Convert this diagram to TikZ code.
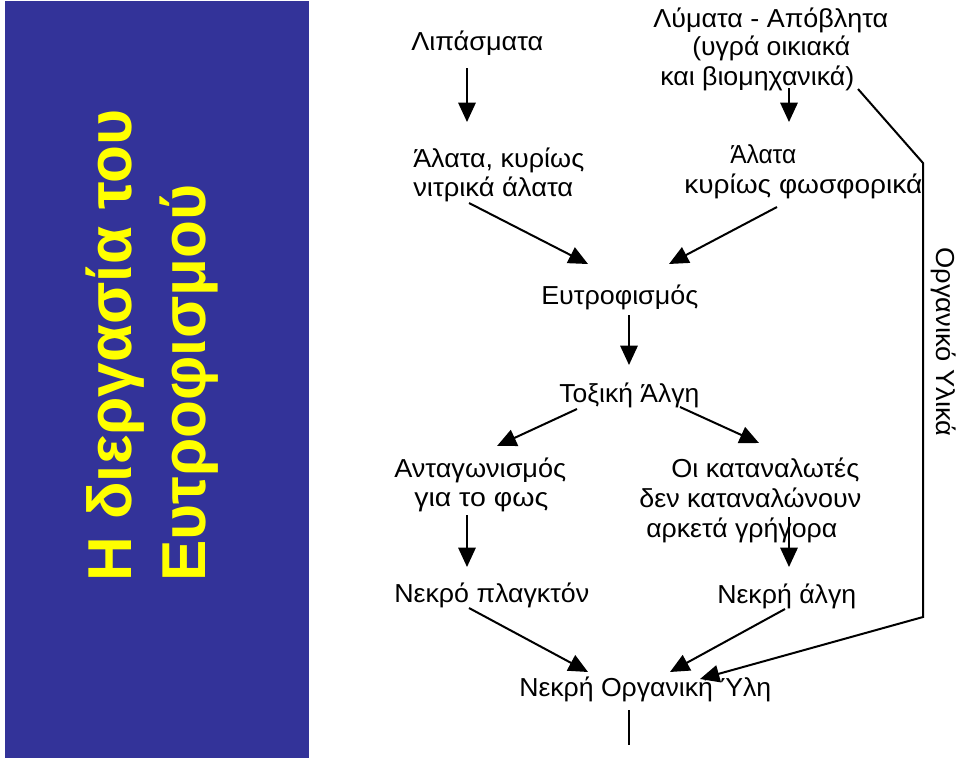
\documentclass[tikz,border=0pt]{standalone}
\usepackage{fontspec}
\setmainfont{Liberation Sans}
\usetikzlibrary{arrows.meta}
\definecolor{panelblue}{RGB}{51,51,153}
\definecolor{titleyellow}{RGB}{255,255,0}
\newlength\px
\setlength\px{0.75pt}
\newcommand{\fitw}[2]{\resizebox{#1\px}{\height}{#2}}
\begin{document}
\begin{tikzpicture}[x=0.75pt,y=-0.75pt,
  lbl/.style={font=\fontsize{19.5}{23}\selectfont, inner sep=0pt, anchor=base west},
  arr/.style={line width=1.5pt, -{Triangle[length=14.5pt,width=13pt]}},
  ln/.style={line width=1.5pt},
  titletext/.style={font=\fontsize{46.5}{50}\selectfont\bfseries, text=titleyellow, inner sep=0pt, anchor=base west, rotate=90}]
\useasboundingbox (0,0) rectangle (960,761);
\fill[white] (0,0) rectangle (960,761);
\fill[panelblue] (5,1) rectangle (309,758);
\node[titletext] (t1) at (131,582) {Η διεργασία του};
\node[titletext] (t2) at (205,582) {Ευτροφισμού};

\node[lbl] (lip) at (411,50) {\fitw{132}{Λιπάσματα}};
\node[lbl] (lym1) at (653,27) {\fitw{235}{Λύματα - Απόβλητα}};
\node[lbl] (lym2) at (692,55) {\fitw{158}{(υγρά οικιακά}};
\node[lbl] (lym3) at (660,85) {\fitw{194}{και βιομηχανικά)}};
\node[lbl] (nit1) at (413,167) {\fitw{171}{Άλατα, κυρίως}};
\node[lbl] (nit2) at (413,196) {\fitw{160}{νιτρικά άλατα}};
\node[lbl] (ph1) at (730,163) {\fitw{66}{Άλατα}};
\node[lbl] (ph2) at (684,193) {\fitw{238}{κυρίως φωσφορικά}};
\node[lbl] (eut) at (541,304) {\fitw{157}{Ευτροφισμός}};
\node[lbl] (tox) at (559,402) {\fitw{140}{Τοξική Άλγη}};
\node[lbl] (comp1) at (394,477) {\fitw{172}{Ανταγωνισμός}};
\node[lbl] (comp2) at (414,506) {\fitw{134}{για το φως}};
\node[lbl] (cons1) at (671,477) {\fitw{188}{Οι καταναλωτές}};
\node[lbl] (cons2) at (639,507) {\fitw{222}{δεν καταναλώνουν}};
\node[lbl] (cons3) at (646,537) {\fitw{191}{αρκετά γρήγορα}};
\node[lbl] (plank) at (394,602) {\fitw{195}{Νεκρό πλαγκτόν}};
\node[lbl] (alg) at (717,603) {\fitw{139}{Νεκρή άλγη}};
\node[lbl] (dom) at (519,696) {\fitw{252}{Νεκρή Οργανική Ύλη}};
\node[lbl, rotate=-90] (org) at (936,247) {\fitw{189}{Οργανικό Υλικά}};

\draw[arr] ([shift={(56,18)}]lip.base west) -- ([shift={(54,-45)}]nit1.base west);
\draw[arr] ([shift={(129,3)}]lym3.base west) -- ([shift={(59,-41)}]ph1.base west);
\draw[arr] ([shift={(198,4)}]lym3.base west) -- ([shift={(-13,-84)}]org.base west)
  -- ([shift={(-13,370)}]org.base west) -- ([shift={(181,-17)}]dom.base west);
\draw[arr] ([shift={(56,7)}]nit2.base west) -- ([shift={(47,-40)}]eut.base west);
\draw[arr] ([shift={(93,14)}]ph2.base west) -- ([shift={(128,-40)}]eut.base west);
\draw[arr] ([shift={(88,11)}]eut.base west) -- ([shift={(70,-37)}]tox.base west);
\draw[arr] ([shift={(18,7)}]tox.base west) -- ([shift={(103,-31)}]comp1.base west);
\draw[arr] ([shift={(121,5)}]tox.base west) -- ([shift={(88,-34)}]cons1.base west);
\draw[arr] ([shift={(53,9)}]comp2.base west) -- ([shift={(73,-35)}]plank.base west);
\draw[arr] ([shift={(143,-20)}]cons3.base west) -- ([shift={(72,-36)}]alg.base west);
\draw[arr] ([shift={(75,6)}]plank.base west) -- ([shift={(69,-24)}]dom.base west);
\draw[arr] ([shift={(68,6)}]alg.base west) -- ([shift={(151,-24)}]dom.base west);
\draw[ln] ([shift={(110,14)}]dom.base west) -- ([shift={(110,49)}]dom.base west);
\end{tikzpicture}
\end{document}
